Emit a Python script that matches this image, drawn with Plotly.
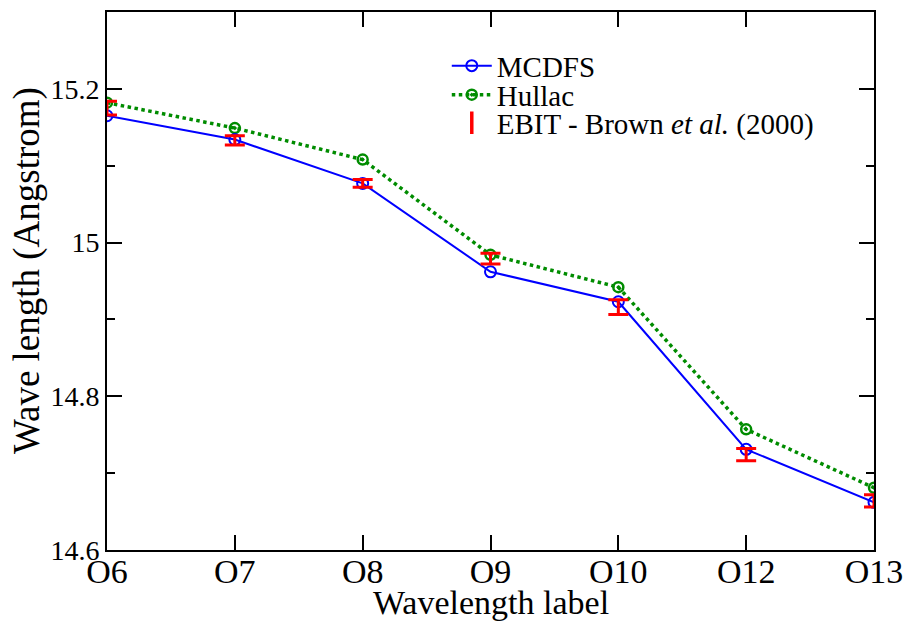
import plotly.graph_objects as go

labels = ["O6", "O7", "O8", "O9", "O10", "O12", "O13"]
mcdfs = [15.165, 15.134, 15.077, 14.962, 14.923, 14.731, 14.662]
hullac = [15.182, 15.149, 15.108, 14.984, 14.942, 14.757, 14.681]
ebit = [15.175, 15.133, 15.077, 14.979, 14.916, 14.724, 14.664]
ebit_err = [0.009, 0.006, 0.005, 0.007, 0.0095, 0.008, 0.008]

serif = "Liberation Serif"

fig = go.Figure()
fig.add_trace(go.Scatter(
    x=labels, y=hullac, name="Hullac", mode="lines+markers", legend="legend2",
    line=dict(color="#008c00", width=3.5, dash="dot"),
    marker=dict(symbol="circle-open-dot", size=10, color="#008c00", line=dict(width=2.5)),
))
fig.add_trace(go.Scatter(
    x=labels, y=mcdfs, name="MCDFS", mode="lines+markers", legend="legend",
    line=dict(color="#0000ff", width=2),
    marker=dict(symbol="circle-open", size=11, color="#0000ff", line=dict(width=2)),
))
fig.add_trace(go.Scatter(
    x=labels, y=ebit, name="EBIT", mode="markers", showlegend=False,
    marker=dict(size=0.1, color="rgba(0,0,0,0)"),
    error_y=dict(type="data", array=ebit_err, visible=True, color="#ff0000", thickness=3, width=10),
))
fig.add_trace(go.Scatter(
    x=[None], y=[None], name="EBIT - Brown <i>et al.</i> (2000)", mode="markers", legend="legend3",
    marker=dict(symbol="line-ns-open", size=18, color="#ff0000", line=dict(width=3.5, color="#ff0000")),
))

leg = dict(xanchor="left", yanchor="middle", bgcolor="rgba(0,0,0,0)",
           font=dict(size=29, family=serif), itemwidth=40, borderwidth=0)
fig.update_layout(
    width=909, height=621,
    margin=dict(l=107, r=35, t=12, b=71, autoexpand=False),
    plot_bgcolor="white", paper_bgcolor="white",
    font=dict(family=serif, size=24, color="black"),
    showlegend=True,
    legend=dict(leg, x=0.443, y=0.900),
    legend2=dict(leg, x=0.443, y=0.846),
    legend3=dict(leg, x=0.443, y=0.794),
    annotations=[
        dict(text="Wavelength label", xref="paper", yref="paper", x=0.5, y=-0.097,
             xanchor="center", yanchor="middle", showarrow=False,
             font=dict(size=34, family=serif)),
        dict(text="Wave length (Angstrom)", xref="paper", yref="paper", x=-0.1043, y=0.5186,
             xanchor="center", yanchor="middle", showarrow=False, textangle=-90,
             font=dict(size=37, family=serif)),
    ],
)
fig.update_xaxes(
    type="category", categoryorder="array", categoryarray=labels,
    range=[0, 6], showgrid=False, zeroline=False, automargin=False,
    showline=True, linecolor="black", linewidth=2, mirror="allticks",
    ticks="inside", ticklen=15, tickwidth=2, tickcolor="black",
    ticklabelstandoff=-10,
    tickfont=dict(size=34, family=serif),
)
fig.update_yaxes(
    range=[14.6, 15.3], tickvals=[14.6, 14.8, 15.0, 15.2], ticktext=["14.6", "14.8", "15", "15.2"],
    showgrid=False, zeroline=False, automargin=False,
    showline=True, linecolor="black", linewidth=2, mirror="allticks",
    ticks="inside", ticklen=15, tickwidth=2, tickcolor="black",
    minor=dict(tickvals=[14.7, 14.9, 15.1], ticks="inside", ticklen=8, tickwidth=2, tickcolor="black"),
    tickfont=dict(size=28, family=serif),
)

fig.write_html("out.html")
